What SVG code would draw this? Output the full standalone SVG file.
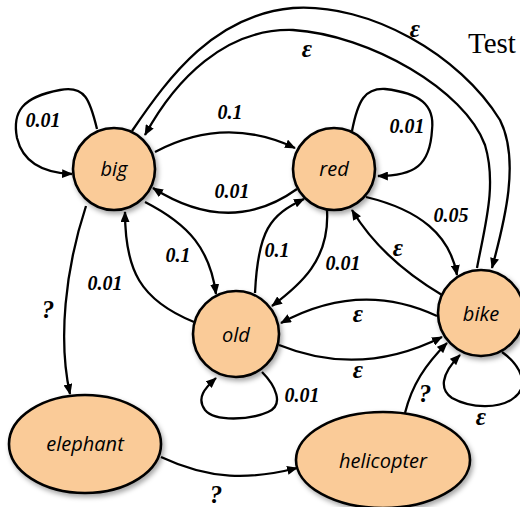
<svg xmlns="http://www.w3.org/2000/svg" width="520" height="507" viewBox="0 0 520 507">
<style>
.node{fill:#FACB98;stroke:#000;stroke-width:2.6;filter:url(#sh)}
.nl{font-family:"Open Sans","Noto Sans",sans-serif;font-style:italic;font-size:20px;text-anchor:middle;fill:#000}
.e{fill:none;stroke:#000;stroke-width:2.3;marker-end:url(#ah)}
.el{font-family:"Liberation Serif","Times New Roman",serif;font-style:italic;font-weight:bold;font-size:20px;text-anchor:middle;fill:#000}
.big{font-size:25px}
</style>
<defs>
<filter id="sh" x="-20%" y="-20%" width="150%" height="150%">
<feDropShadow dx="2" dy="3" stdDeviation="2.5" flood-color="#000" flood-opacity="0.35"/>
</filter>
<marker id="ah" viewBox="0 0 12 10" refX="11" refY="5" markerWidth="11" markerHeight="9" markerUnits="userSpaceOnUse" orient="auto">
<path d="M0,0 L12,5 L0,10 Z" fill="#000"/>
</marker>
</defs>
<rect width="520" height="507" fill="#fff"/>
<text x="468" y="53" font-family="Liberation Serif,Times New Roman,serif" font-size="29" fill="#000">Test</text>
<g id="connectors">
<path class="e" d="M97,129 C90,100 85,85 60,90 C22,97 12,112 17,138 C23,163 45,173 72,174"/>
<path class="e" d="M155,152 Q225,115 295,148"/>
<path class="e" d="M297,189 Q230,237 153,188"/>
<path class="e" d="M145,202 C190,225 210,250 216,294"/>
<path class="e" d="M194,322 C140,300 125,270 125,212"/>
<path class="e" d="M255,293 C258,230 270,215 304,199"/>
<path class="e" d="M327,210 C330,260 300,285 272,306"/>
<path class="e" d="M352,131 C358,100 365,88 385,89 C420,93 435,105 432,130 C430,165 415,176 378,176"/>
<path class="e" d="M366,197 C420,210 450,235 457,275"/>
<path class="e" d="M442,295 C400,270 370,240 352,210"/>
<path class="e" d="M437,316 Q360,280 281,323"/>
<path class="e" d="M279,345 Q360,378 442,337"/>
<path class="e" d="M262,372 C275,385 285,405 268,412 C250,420 215,422 205,410 C196,398 205,388 216,378"/>
<path class="e" d="M502,352 C520,365 530,385 515,397 C500,410 470,408 452,398 C440,390 440,375 460,355"/>
<path class="e" d="M132,131 C170,75 215,15 293,8 C370,3 460,55 500,120 C520,160 505,220 492,268"/>
<path class="e" d="M477,268 C485,225 497,185 485,145 C465,90 370,35 293,30 C225,28 175,80 145,135"/>
<path class="e" d="M86,206 C65,270 58,340 70,394"/>
<path class="e" d="M161,457 C210,480 250,480 297,468"/>
<path class="e" d="M405,413 C412,385 425,365 447,343"/>
</g>
<g id="labels">
<text class="el" x="43" y="127">0.01</text>
<text class="el" x="230" y="119">0.1</text>
<text class="el" x="232" y="198">0.01</text>
<text class="el" x="407" y="133">0.01</text>
<text class="el" x="451" y="222">0.05</text>
<text class="el big" x="398" y="256">ε</text>
<text class="el big" x="415" y="37">ε</text>
<text class="el big" x="307" y="57">ε</text>
<text class="el" x="178" y="262">0.1</text>
<text class="el" x="105" y="290">0.01</text>
<text class="el" x="277" y="257">0.1</text>
<text class="el" x="343" y="270">0.01</text>
<text class="el big" x="48" y="318">?</text>
<text class="el big" x="358" y="322">ε</text>
<text class="el big" x="358" y="378">ε</text>
<text class="el" x="302" y="402">0.01</text>
<text class="el big" x="481" y="425">ε</text>
<text class="el big" x="425" y="402">?</text>
<text class="el big" x="216" y="503">?</text>
</g>
<g id="big"><circle class="node" cx="114" cy="169" r="41"/><text class="nl" x="114" y="176">big</text></g>
<g id="red"><circle class="node" cx="334" cy="169" r="41"/><text class="nl" x="334" y="176">red</text></g>
<g id="old"><circle class="node" cx="236" cy="334" r="43"/><text class="nl" x="236" y="342">old</text></g>
<g id="bike"><circle class="node" cx="481" cy="313" r="43"/><text class="nl" x="481" y="321">bike</text></g>
<g id="elephant"><ellipse class="node" cx="85" cy="444" rx="76" ry="49"/><text class="nl" x="85" y="451">elephant</text></g>
<g id="helicopter"><ellipse class="node" cx="383" cy="460" rx="87" ry="48"/><text class="nl" x="383" y="468">helicopter</text></g>
</svg>
